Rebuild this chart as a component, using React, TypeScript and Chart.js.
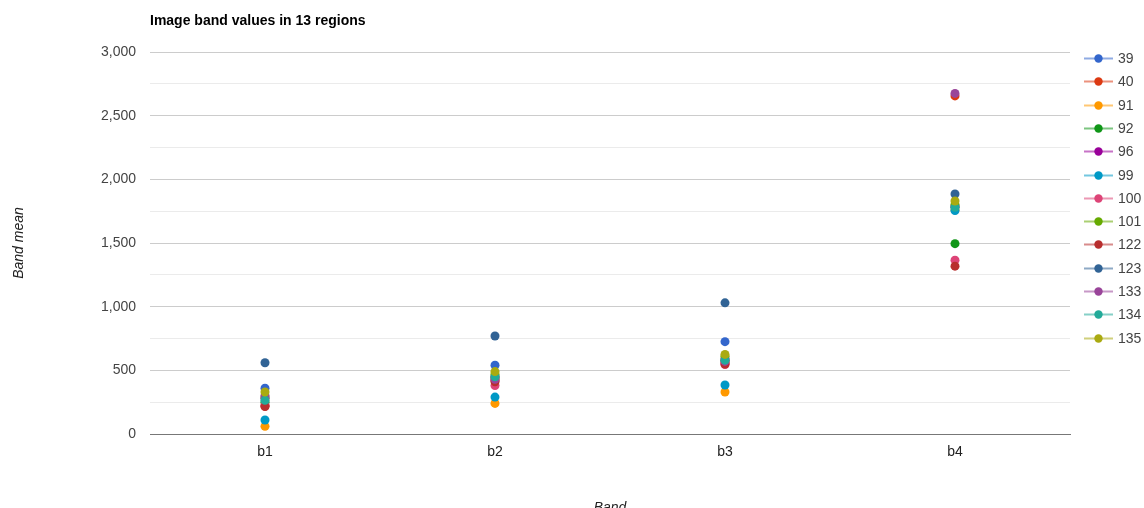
import React, { useEffect, useRef } from "react";
import { Chart, registerables } from "chart.js";

Chart.register(...registerables);

const bands = ["b1", "b2", "b3", "b4"];
const regions = ["39", "40", "91", "92", "96", "99", "100", "101", "122", "123", "133", "134", "135"];
const regionColors = [
  "#3366cc", "#dc3912", "#ff9900", "#109618", "#990099", "#0099c6", "#dd4477",
  "#66aa00", "#b82e2e", "#316395", "#994499", "#22aa99", "#aaaa11",
];
const b1Values = [360, 220, 60, 250, 280, 110, 225, 290, 215, 560, 300, 265, 330];
const b2Values = [540, 420, 240, 440, 450, 290, 380, 470, 410, 770, 430, 450, 490];
const b3Values = [725, 560, 330, 580, 590, 385, 545, 610, 550, 1030, 570, 580, 625];
const b4Values = [1780, 2655, 1760, 1495, 1790, 1755, 1365, 1800, 1318, 1885, 2675, 1780, 1830];
const yTickValues = [0, 500, 1000, 1500, 2000, 2500, 3000];

const chartTitle = "Image band values in 13 regions";
const xTitle = "Band";
const yTitle = "Band mean";

const FONT = "Arial, 'Liberation Sans', sans-serif";

function hexToRgba(hex: string, a: number) {
  const n = parseInt(hex.slice(1), 16);
  return `rgba(${(n >> 16) & 255},${(n >> 8) & 255},${n & 255},${a})`;
}

const decorPlugin = {
  id: "decor",
  afterDraw(chart: any) {
    const ctx = chart.ctx as CanvasRenderingContext2D;
    const area = chart.chartArea;
    ctx.save();
    // Title
    ctx.fillStyle = "#000";
    ctx.font = `bold 14px ${FONT}`;
    ctx.textAlign = "left";
    ctx.textBaseline = "alphabetic";
    ctx.fillText(chartTitle, area.left, 25);
    // X title
    ctx.fillStyle = "#222";
    ctx.font = `italic 14px ${FONT}`;
    ctx.textAlign = "center";
    ctx.fillText(xTitle, (area.left + area.right) / 2, 512);
    // Y title
    ctx.save();
    ctx.translate(23, (area.top + area.bottom) / 2);
    ctx.rotate(-Math.PI / 2);
    ctx.textAlign = "center";
    ctx.textBaseline = "alphabetic";
    ctx.fillText(yTitle, 0, 0);
    ctx.restore();
    // Legend
    const x0 = 1084;
    const lineW = 29;
    let y = 58;
    const step = 23.3;
    regions.forEach((r, i) => {
      const yy = Math.round(y) + 0.5;
      ctx.strokeStyle = hexToRgba(regionColors[i], 0.55);
      ctx.lineWidth = 2;
      ctx.beginPath();
      ctx.moveTo(x0, yy);
      ctx.lineTo(x0 + lineW, yy);
      ctx.stroke();
      ctx.fillStyle = regionColors[i];
      ctx.beginPath();
      ctx.arc(x0 + lineW / 2, yy, 4.2, 0, Math.PI * 2);
      ctx.fill();
      ctx.fillStyle = "#444";
      ctx.font = `14px ${FONT}`;
      ctx.textAlign = "left";
      ctx.textBaseline = "middle";
      ctx.fillText(r, x0 + lineW + 5, yy + 1);
      y += step;
    });
    ctx.restore();
  },
};

export default function App() {
  const ref = useRef<HTMLCanvasElement | null>(null);
  useEffect(() => {
    if (!ref.current) return;
    const datasets = regions.map((r, i) => ({
      label: r,
      data: [b1Values[i], b2Values[i], b3Values[i], b4Values[i]],
      backgroundColor: regionColors[i],
      borderColor: regionColors[i],
      showLine: false,
      pointRadius: 4.5,
      pointBorderWidth: 0,
      pointHoverRadius: 4.5,
      order: regions.length - i,
    }));
    const chart = new Chart(ref.current, {
      type: "line",
      data: { labels: bands, datasets },
      options: {
        animation: false,
        responsive: false,
        devicePixelRatio: 1,
        layout: { padding: { top: 52, right: 74, left: 0, bottom: 0 } },
        plugins: { legend: { display: false }, title: { display: false }, tooltip: { enabled: false } },
        scales: {
          x: {
            offset: true,
            grid: { display: false, drawTicks: false },
            border: { display: true, color: "#777", width: 1 },
            ticks: { color: "#222", font: { family: FONT, size: 14 }, padding: 10 },
            afterFit: (s: any) => { s.height = 74; },
          },
          y: {
            min: 0,
            max: 3000,
            afterBuildTicks: (s: any) => {
              const t: any[] = [];
              for (let v = 0; v <= 3000; v += 250) t.push({ value: v });
              s.ticks = t;
            },
            grid: {
              drawTicks: false,
              color: (c: any) => (c.tick && c.tick.value === 0 ? "#777" : (yTickValues.includes(c.tick?.value) ? "#cccccc" : "#ebebeb")),
            },
            border: { display: false },
            ticks: {
              autoSkip: false,
              color: "#444",
              font: { family: FONT, size: 14 },
              padding: 14,
              callback: (v: any) => (yTickValues.includes(Number(v)) ? Number(v).toLocaleString("en-US") : ""),
            },
            afterFit: (s: any) => { s.width = 150; },
          },
        },
      },
      plugins: [decorPlugin],
    });
    return () => chart.destroy();
  }, []);
  return (
    <div style={{ position: "absolute", left: 0, top: 0, width: 1144, height: 508, background: "#fff" }}>
      <canvas ref={ref} width={1144} height={508} />
    </div>
  );
}
